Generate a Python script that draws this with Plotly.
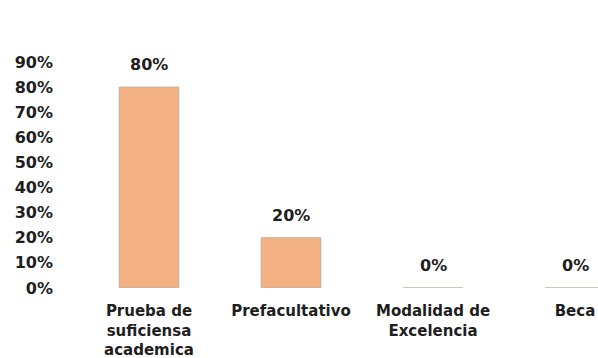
import plotly.graph_objects as go

categories = ["Prueba de<br>suficiensa<br>academica", "Prefacultativo", "Modalidad de<br>Excelencia", "Beca"]
values = [0.80, 0.20, 0.00, 0.00]
y_ticks = [0.0, 0.1, 0.2, 0.3, 0.4, 0.5, 0.6, 0.7, 0.8, 0.9]
y_tick_labels = ["0%", "10%", "20%", "30%", "40%", "50%", "60%", "70%", "80%", "90%"]

FONT = "DejaVu Sans"
TXT = "#1e1e1e"

fig = go.Figure()
fig.add_trace(go.Bar(
    x=list(range(len(categories))),
    y=values,
    width=0.42,
    marker=dict(color="#F3B082", line=dict(color="#c4ae9e", width=1)),
    hoverinfo="skip",
))

for i, v in enumerate(values):
    fig.add_annotation(
        x=i, y=v, text=f"{round(v*100)}%", showarrow=False,
        yanchor="bottom", yshift=11,
        font=dict(family=FONT, size=16, color=TXT, weight="bold"),
    )

fig.update_layout(
    width=598, height=358,
    margin=dict(l=78, r=0, t=62, b=70),
    paper_bgcolor="white", plot_bgcolor="white",
    showlegend=False,
    bargap=0.58,
)
fig.update_xaxes(
    range=[-0.5, 3.162],
    tickmode="array", tickvals=list(range(len(categories))), ticktext=categories,
    showgrid=False, zeroline=False, showline=False, ticks="",
    tickfont=dict(family=FONT, size=15, color=TXT, weight="bold"),
    ticklabelstandoff=12,
)
fig.update_yaxes(
    range=[0, 0.9],
    tickmode="array", tickvals=y_ticks, ticktext=y_tick_labels,
    showgrid=False, zeroline=False, showline=False, ticks="",
    tickfont=dict(family=FONT, size=16, color=TXT, weight="bold"),
    ticklabelstandoff=24,
)

fig.write_html("out.html")
